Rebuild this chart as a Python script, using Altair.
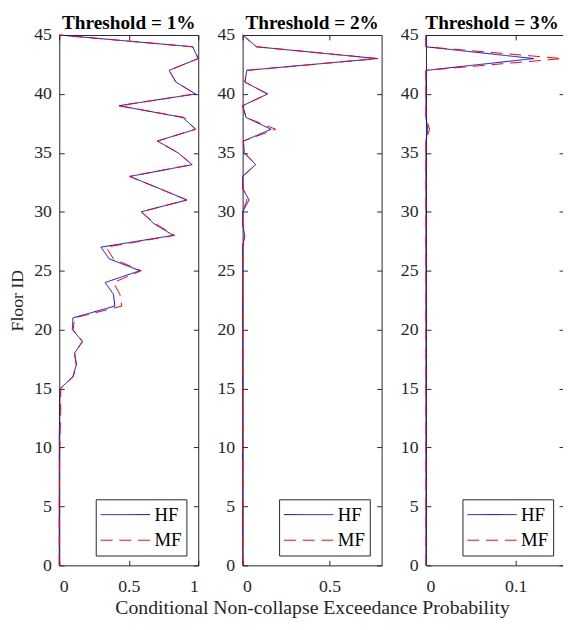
import altair as alt
import pandas as pd

# Floors listed from top (45) to bottom (0)
floors = list(range(45, -1, -1))

# Threshold = 1%
t1_hf = [0.0, 0.96, 1.0, 0.79, 0.84, 0.98, 0.43, 0.89, 0.98, 0.706, 0.855, 0.956,
         0.507, 0.715, 0.918, 0.59, 0.68, 0.82, 0.30, 0.36, 0.58, 0.33, 0.39, 0.40,
         0.098, 0.094, 0.167, 0.11, 0.122, 0.098, 0.006,
         0.003, 0.002, 0.002, 0.0, 0.0, 0.0, 0.0, 0.0, 0.0, 0.0, 0.0, 0.0, 0.0, 0.0, 0.0]
t1_mf = [0.0, 0.96, 1.0, 0.79, 0.84, 0.98, 0.43, 0.90, 0.98, 0.706, 0.855, 0.956,
         0.507, 0.715, 0.918, 0.59, 0.69, 0.83, 0.337, 0.39, 0.59, 0.39, 0.436, 0.45,
         0.11, 0.10, 0.167, 0.11, 0.125, 0.10, 0.01,
         0.01, 0.01, 0.008, 0.005, 0.004, 0.003, 0.002, 0.002, 0.0, 0.0, 0.0, 0.0, 0.0, 0.0, 0.0]

# Threshold = 2%
t2_hf = [0.0, 0.08, 0.774, 0.024, 0.013, 0.144, 0.0, 0.02, 0.164, 0.004, 0.01, 0.075,
         0.0, 0.0, 0.037, 0.0, 0.0, 0.012, 0.0, 0.0, 0.0, 0.0, 0.0, 0.0,
         0.0, 0.0, 0.0, 0.0, 0.0, 0.0, 0.0, 0.0, 0.0, 0.0, 0.0, 0.0, 0.0, 0.0, 0.0, 0.0,
         0.0, 0.0, 0.0, 0.0, 0.0, 0.0]
t2_mf = [0.0, 0.08, 0.78, 0.024, 0.013, 0.144, 0.0, 0.02, 0.19, 0.004, 0.01, 0.075,
         0.0, 0.0, 0.025, 0.0, 0.0, 0.012, 0.0, 0.0, 0.0, 0.0, 0.0, 0.0,
         0.0, 0.0, 0.0, 0.0, 0.0, 0.0, 0.0, 0.0, 0.0, 0.0, 0.0, 0.0, 0.0, 0.0, 0.0, 0.0,
         0.0, 0.0, 0.0, 0.0, 0.0, 0.0]

# Threshold = 3%
t3_hf = [0.0, 0.0, 0.12, 0.0, 0.0, 0.0, 0.0, 0.0, 0.002, 0.0, 0.0, 0.0,
         0.0, 0.0, 0.0, 0.0, 0.0, 0.0, 0.0, 0.0, 0.0, 0.0, 0.0, 0.0,
         0.0, 0.0, 0.0, 0.0, 0.0, 0.0, 0.0, 0.0, 0.0, 0.0, 0.0, 0.0, 0.0, 0.0, 0.0, 0.0,
         0.0, 0.0, 0.0, 0.0, 0.0, 0.0]
t3_mf = [0.0, 0.0, 0.152, 0.0, 0.0, 0.0, 0.0, 0.0, 0.004, 0.0, 0.0, 0.0,
         0.0, 0.0, 0.0, 0.0, 0.0, 0.0, 0.0, 0.0, 0.0, 0.0, 0.0, 0.0,
         0.0, 0.0, 0.0, 0.0, 0.0, 0.0, 0.0, 0.0, 0.0, 0.0, 0.0, 0.0, 0.0, 0.0, 0.0, 0.0,
         0.0, 0.0, 0.0, 0.0, 0.0, 0.0]

titles = ["Threshold = 1%", "Threshold = 2%", "Threshold = 3%"]
title_dx = [0, 0, -3]
x_max = [1.0, 0.8, 0.1538]
x_ticks = [[0, 0.5, 1], [0, 0.5], [0, 0.1]]
y_ticks = list(range(0, 46, 5))
models = ["HF", "MF"]
x_title = "Conditional Non-collapse Exceedance Probability"
y_title = "Floor ID"

FONT = "Liberation Serif"
GREY = "#262626"
WIDTHS = [141, 141, 140]
HEIGHT = 538


def make_df(hf, mf):
    rows = []
    for f, v in zip(floors, hf):
        rows.append({"floor": f, "value": v, "model": "HF"})
    for f, v in zip(floors, mf):
        rows.append({"floor": f, "value": v, "model": "MF"})
    return pd.DataFrame(rows)


def panel(i, df):
    xs = alt.Scale(domain=[0, x_max[i]], nice=False, zero=False)
    ys = alt.Scale(domain=[0, 45], nice=False, zero=False)
    base = alt.Chart(df)
    lines = base.mark_line(strokeWidth=1).encode(
        x=alt.X("value:Q", scale=xs,
                axis=alt.Axis(orient="bottom", values=x_ticks[i], format="~g",
                              offset=-5, tickSize=5, domain=False, labelPadding=13,
                              labelFontSize=18,
                              title=x_title if i == 1 else None, titlePadding=2,
                              titleFontSize=20)),
        y=alt.Y("floor:Q", scale=ys,
                axis=alt.Axis(orient="left", values=y_ticks, format="d",
                              offset=-5, tickSize=5, domain=False, labelPadding=8,
                              labelFontSize=18,
                              title=y_title if i == 0 else None, titlePadding=7,
                              titleFontSize=18)),
        color=alt.Color("model:N", scale=alt.Scale(domain=models, range=["#0000FF", "#FF0000"]),
                        legend=alt.Legend(title=None)),
        strokeDash=alt.StrokeDash("model:N", scale=alt.Scale(domain=models, range=[[1, 0], [12, 7]]),
                                  legend=alt.Legend(title=None)),
        order=alt.Order("floor:Q"),
    )
    mirror = base.mark_line(opacity=0).encode(
        x=alt.X("value:Q", scale=xs,
                axis=alt.Axis(orient="top", values=x_ticks[i], labels=False, offset=-5,
                              tickSize=5, domain=False, title=None)),
        y=alt.Y("floor:Q", scale=ys,
                axis=alt.Axis(orient="right", values=y_ticks, labels=False, offset=-5,
                              tickSize=5, domain=False, title=None)),
        detail="model:N",
        order=alt.Order("floor:Q"),
    )
    return alt.layer(lines, mirror).resolve_axis(x="independent", y="independent").properties(
        width=WIDTHS[i], height=HEIGHT,
        title=alt.TitleParams(titles[i], offset=-7, dx=title_dx[i]),
    )


panels = [panel(0, make_df(t1_hf, t1_mf)),
          panel(1, make_df(t2_hf, t2_mf)),
          panel(2, make_df(t3_hf, t3_mf))]

chart = alt.hconcat(*panels, spacing=45, bounds="flush").resolve_scale(
    x="independent", y="independent", color="independent", strokeDash="independent"
).resolve_legend(color="independent", strokeDash="independent").properties(
    padding={"left": 0, "top": 0, "right": -2, "bottom": -5}
).configure_view(
    stroke=GREY, strokeWidth=1
).configure_axis(
    labelFont=FONT, labelFontSize=18, labelColor=GREY, tickColor=GREY, tickWidth=1,
    titleFont=FONT, titleFontSize=18, titleFontWeight="normal", titleColor=GREY, grid=False,
).configure_title(
    font=FONT, fontSize=19.5, fontWeight="bold", color="black", anchor="middle"
).configure_legend(
    orient="none", legendX=37, legendY=471, strokeColor=GREY, fillColor="white", padding=5,
    labelFont=FONT, labelFontSize=19, labelColor="black",
    symbolType="M-2.5,0H2.5", symbolSize=400, symbolStrokeWidth=1, symbolOffset=14.5,
    labelOffset=19, rowPadding=5, cornerRadius=0,
)

chart.save("out.html", embed_options={"renderer": "svg", "actions": False})
